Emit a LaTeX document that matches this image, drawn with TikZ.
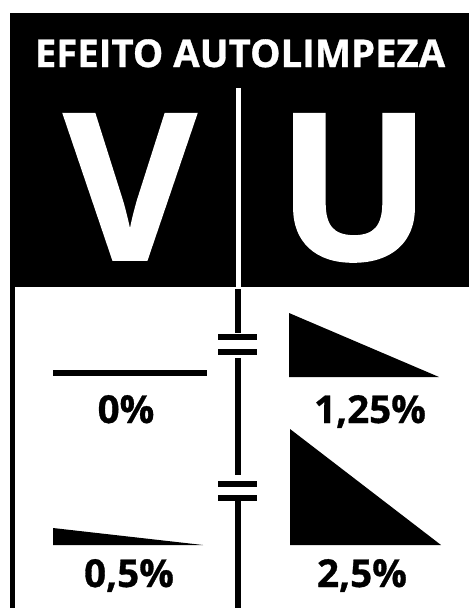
\documentclass[tikz,border=0pt]{standalone}
\usepackage{fontspec}
\setmainfont{Open Sans}[BoldFeatures={FakeBold=0.8}]
\usetikzlibrary{positioning}

\begin{document}
\begin{tikzpicture}[
    x=1pt, y=-1pt,
    headtext/.style={text=white, font=\bfseries\fontsize{38.3}{38}\selectfont, inner sep=0pt, anchor=base},
    bigletter/.style={text=white, font=\bfseries\fontsize{205}{205}\selectfont, inner sep=0pt, anchor=base},
    slopetext/.style={font=\bfseries\fontsize{38.5}{38}\selectfont, inner sep=0pt, anchor=base},
    plate/.style={fill=black},
    ramp/.style={fill=black}
]
\useasboundingbox (0,0) rectangle (469,608);
% header
\fill (10,13) rectangle (469,287);
\fill (10,287) rectangle (15,608);
\node[headtext] (title) at (240,67) {EFEITO AUTOLIMPEZA};
\fill[white] (235.5,88) rectangle (240.5,288);
\node[bigletter] (vee) at (130,260) {V};
\node[bigletter] (you) at (354,260) {U};

% split line with the two gaps
\fill (235,289) rectangle (241,333);
\fill[plate] (218,334) rectangle (257,340);
\fill[plate] (218,349) rectangle (257,355);
\fill (235,358) rectangle (241,475);
\fill[plate] (218,481) rectangle (257,487);
\fill[plate] (218,495) rectangle (257,501);
\fill (235,501) rectangle (241,608);

% slopes
\fill[ramp] (53,370) rectangle (207,376);
\fill[ramp] (289,313) -- (289,377) -- (439,377) -- cycle;
\fill[ramp] (53,528) -- (53,545) -- (203,545) -- cycle;
\fill[ramp] (290,429) -- (290,545) -- (441,545) -- cycle;

\node[slopetext] (p0) at (126,423) {0\%};
\node[slopetext] (p125) at (370,423) {1,25\%};
\node[slopetext] (p05) at (129,587) {0,5\%};
\node[slopetext] (p25) at (362,587) {2,5\%};
\end{tikzpicture}
\end{document}
